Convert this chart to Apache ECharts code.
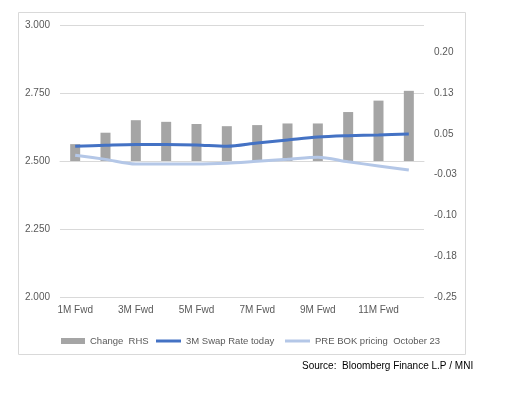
<!DOCTYPE html>
<html>
<head>
<meta charset="utf-8">
<script src="https://cdn.jsdelivr.net/npm/echarts@6/dist/echarts.min.js"></script>
<style>
  html, body { margin: 0; padding: 0; background: #fff; }
  #main { width: 528px; height: 396px; }
</style>
</head>
<body>
<div id="main"></div>
<script>
// categories (forward months)
var categories = ['1M Fwd','2M Fwd','3M Fwd','4M Fwd','5M Fwd','6M Fwd','7M Fwd','8M Fwd','9M Fwd','10M Fwd','11M Fwd','12M Fwd'];
// change, right hand scale
var changeRHS = [0.031, 0.052, 0.075, 0.072, 0.068, 0.064, 0.066, 0.069, 0.069, 0.090, 0.111, 0.129];
// 3M swap rate today
var swapToday = [2.554, 2.558, 2.561, 2.561, 2.559, 2.554, 2.566, 2.577, 2.588, 2.593, 2.596, 2.599];
// pre BOK pricing, October 23
var preBok = [2.521, 2.506, 2.489, 2.489, 2.489, 2.492, 2.499, 2.506, 2.514, 2.497, 2.482, 2.467];

var font = 'Liberation Sans';
var grey = '#595959';
var legendText = { color: grey, fontSize: 9.5, fontFamily: font };

var myChart = echarts.init(document.getElementById('main'));
var option = {
    animation: false,
    textStyle: { fontFamily: font },
    graphic: [
        {   // chart border
            type: 'rect',
            shape: { x: 18.5, y: 12.5, width: 447, height: 342 },
            style: { fill: 'none', stroke: '#d9d9d9', lineWidth: 1 },
            silent: true
        },
        {
            type: 'text',
            left: 302, top: 361,
            style: { text: 'Source:  Bloomberg Finance L.P / MNI', fill: '#000', font: '10px ' + font }
        }
    ],
    // one legend per item so the swatches can differ in height
    legend: [
        { left: 56, top: 331, itemWidth: 24, itemHeight: 6, textStyle: legendText,
          data: [{ name: 'Change  RHS', icon: 'rect' }] },
        { left: 151, top: 331, itemWidth: 25, itemHeight: 3, textStyle: legendText,
          data: [{ name: '3M Swap Rate today', icon: 'rect' }] },
        { left: 280, top: 331, itemWidth: 25, itemHeight: 3, textStyle: legendText,
          data: [{ name: 'PRE BOK pricing  October 23', icon: 'rect' }] }
    ],
    grid: { left: 60, right: 104, top: 25, bottom: 99 },
    xAxis: {
        type: 'category',
        data: categories,
        axisLine: { lineStyle: { color: '#d9d9d9' } },
        axisTick: { interval: 0, length: 4, lineStyle: { color: '#d9d9d9' } },
        axisLabel: { interval: 1, color: grey, fontSize: 10, margin: 8 }
    },
    yAxis: [
        {
            type: 'value', min: 2, max: 3, interval: 0.25,
            axisLine: { show: false }, axisTick: { show: false },
            splitLine: { lineStyle: { color: '#d9d9d9' } },
            axisLabel: { color: grey, fontSize: 10, margin: 10,
                formatter: function (v) { return v.toFixed(3); } }
        },
        {
            type: 'value', min: -0.25, max: 0.25, interval: 0.075,
            axisLine: { show: false }, axisTick: { show: false },
            splitLine: { show: false },
            axisLabel: { color: grey, fontSize: 10, margin: 10, showMaxLabel: false,
                formatter: function (v) {
                    var r = Math.round(Math.abs(v) * 100 + 1e-6) / 100;
                    return (v < 0 ? '-' : '') + r.toFixed(2);
                } }
        }
    ],
    series: [
        {
            name: 'Change  RHS', type: 'bar', yAxisIndex: 1,
            data: changeRHS, barWidth: 10,
            itemStyle: { color: '#a5a5a5' }
        },
        {
            name: '3M Swap Rate today', type: 'line', yAxisIndex: 0,
            data: swapToday, smooth: 0.3, symbol: 'none',
            lineStyle: { color: '#4472c4', width: 3 },
            itemStyle: { color: '#4472c4' }
        },
        {
            name: 'PRE BOK pricing  October 23', type: 'line', yAxisIndex: 0,
            data: preBok, smooth: 0.3, symbol: 'none',
            lineStyle: { color: '#b4c7e7', width: 3 },
            itemStyle: { color: '#b4c7e7' }
        }
    ]
};
myChart.setOption(option);
</script>
</body>
</html>
